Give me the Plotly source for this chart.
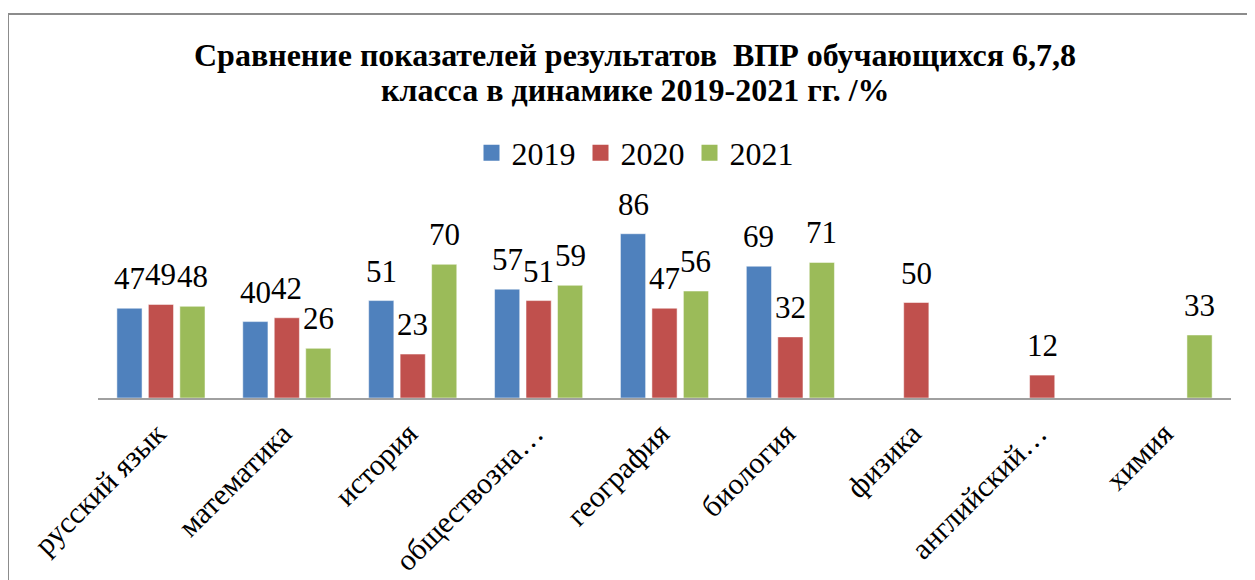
import plotly.graph_objects as go

categories = ["русский язык", "математика", "история", "обществозна…", "география",
              "биология", "физика", "английский…", "химия"]
years = ["2019", "2020", "2021"]
v2019 = [47, 40, 51, 57, 86, 69, None, None, None]
v2020 = [49, 42, 23, 51, 47, 32, 50, 12, None]
v2021 = [48, 26, 70, 59, 56, 71, None, None, 33]
series = [v2019, v2020, v2021]
colors = ["#4F81BD", "#C0504D", "#9BBB59"]
title_lines = ["Сравнение показателей результатов  ВПР обучающихся 6,7,8",
               "класса в динамике 2019-2021 гг. /%"]

FONT = "Times New Roman"
BARGAP, GROUPGAP = 0.25, 0.2

# the page body adds an 8 px margin, so the figure is placed at (8, 8)
OFF = 8
W, H = 1255 - OFF, 580 - OFF
ML, MR, MT, MB = 98 - OFF, 24, 207 - OFF, 182
pw, ph = W - ML - MR, H - MT - MB


def px_x(px):
    return (px - OFF - ML) / pw


def px_y(py):
    return (H - MB - (py - OFF)) / ph


fig = go.Figure()
n = len(series)
for j, (name, vals, col) in enumerate(zip(years, series, colors)):
    fig.add_trace(go.Bar(
        x=categories, y=vals, name=name, showlegend=False,
        marker=dict(color=col, line=dict(color="rgba(255,255,255,0.5)", width=1)),
    ))
    # legend entry with a larger square swatch
    fig.add_trace(go.Scatter(
        x=[None], y=[None], name=name, mode="markers",
        marker=dict(symbol="square", size=17, color=col),
    ))
    # value labels above each bar
    slot = (1 - BARGAP) / n
    for i, v in enumerate(vals):
        if v is None:
            continue
        fig.add_annotation(
            x=i + (j - (n - 1) / 2) * slot, y=v, xref="x", yref="y",
            text=str(v), showarrow=False, xanchor="center", yanchor="bottom", yshift=10,
            font=dict(family=FONT, size=31, color="black"),
        )

for k, (line, base_y) in enumerate(zip(title_lines, [75, 110])):
    fig.add_annotation(
        x=px_x(635), y=px_y(base_y), xref="paper", yref="paper",
        text=f"<b>{line}</b>", showarrow=False, xanchor="center", yanchor="bottom",
        font=dict(family=FONT, size=32, color="black"),
    )

fig.update_layout(
    width=W, height=H,
    margin=dict(l=ML, r=MR, t=MT, b=MB, pad=0, autoexpand=False),
    paper_bgcolor="white", plot_bgcolor="white",
    barmode="group", bargap=BARGAP, bargroupgap=GROUPGAP,
    font=dict(family=FONT, color="black"),
    legend=dict(
        orientation="h", x=(635 - OFF) / W, xref="container", xanchor="center",
        y=1 - (153 - OFF) / H, yref="container", yanchor="middle",
        font=dict(family=FONT, size=32, color="black"),
        bgcolor="rgba(0,0,0,0)", itemclick=False,
    ),
)
fig.update_xaxes(
    type="category", showline=True, linecolor="#a0a0a0", linewidth=2,
    showgrid=False, ticks="", tickangle=-45, automargin=False,
    ticklabelshift=-4, ticklabelstandoff=4,
    tickfont=dict(family=FONT, size=30, color="black"),
)
fig.update_yaxes(range=[0, 100], visible=False, automargin=False)

# outer frame (only its top and left edges fall inside the picture)
fig.add_shape(type="rect", xref="paper", yref="paper",
              x0=px_x(OFF), x1=px_x(1275), y0=px_y(600), y1=px_y(14),
              line=dict(color="#8c8c8c", width=2), fillcolor="rgba(0,0,0,0)", layer="below")

fig.write_html("out.html")
